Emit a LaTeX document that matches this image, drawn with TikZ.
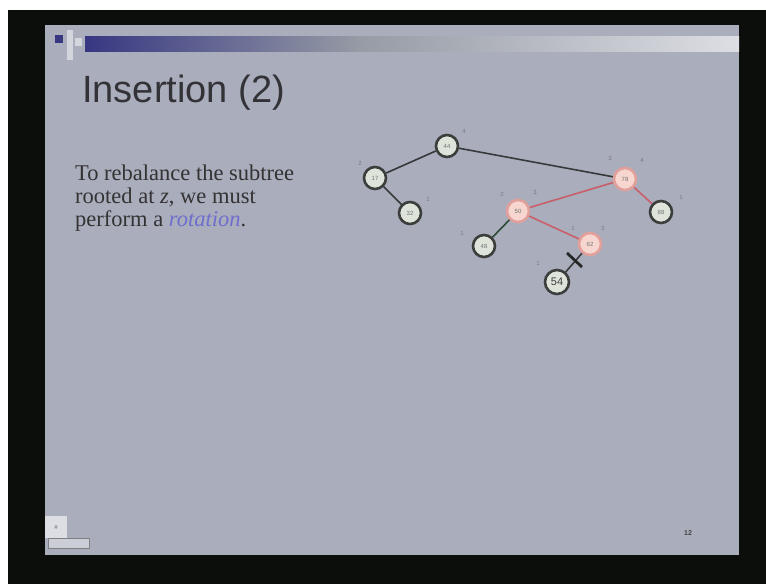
\documentclass[tikz,border=0pt]{standalone}
\usepackage{fontspec}
\setmainfont{Liberation Serif}
\newfontfamily\arialf{Liberation Sans}
\definecolor{slidebg}{RGB}{170,173,188}
\definecolor{frameblk}{RGB}{12,14,12}
\definecolor{titlec}{RGB}{50,50,55}
\definecolor{navy}{RGB}{55,55,130}
\definecolor{midgray}{RGB}{150,155,165}
\definecolor{nodefill}{RGB}{222,228,218}
\definecolor{nodeedge}{RGB}{60,62,60}
\definecolor{pinkfill}{RGB}{246,214,206}
\definecolor{pinkedge}{RGB}{225,160,155}
\definecolor{redline}{RGB}{200,95,105}
\definecolor{darkline}{RGB}{55,58,58}
\definecolor{greenline}{RGB}{45,75,55}
\definecolor{rotblue}{RGB}{110,110,205}
\definecolor{hlab}{RGB}{120,120,135}
\begin{document}
\begin{tikzpicture}[x=1pt,y=-1pt,
  tnode/.style={circle,draw=nodeedge,line width=2.6pt,fill=nodefill,minimum size=22pt,inner sep=0pt,font=\fontsize{6}{6}\selectfont\arialf,text=black!55},
  pnode/.style={tnode,draw=pinkedge,fill=pinkfill},
  hl/.style={font=\fontsize{6}{6}\selectfont\arialf,text=hlab,inner sep=0pt},
  dedge/.style={draw=darkline,line width=1.6pt},
  redge/.style={draw=redline,line width=1.6pt}]
\useasboundingbox (0,0) rectangle (766,584);
\fill[white] (0,0) rectangle (766,584);
\fill[frameblk] (8,10) rectangle (766,584);
\fill[slidebg] (45,25) rectangle (739,555);
% title decoration
\fill[left color=navy, right color=midgray] (85,36) rectangle (360,51);
\fill[left color=midgray, right color=slidebg!40!white] (359.5,36) rectangle (739,51);
\fill[navy] (55,35) rectangle (63,43);
\fill[slidebg!50!white] (67,30) rectangle (73,60);
\fill[slidebg!50!white] (75,38) rectangle (82,46);
\node[anchor=base west,inner sep=0pt,font=\fontsize{38}{38}\selectfont\arialf,text=titlec] (title) at (82,102) {Insertion (2)};
% body text
\node[anchor=north west,inner sep=0pt,align=left,font=\fontsize{22.5}{23}\selectfont,text=black!80] (body) at (75,165)
  {To rebalance the subtree\\rooted at \textit{z}, we must\\perform a \textcolor{rotblue}{\textit{rotation}}.};
% tree
\node[tnode] (n44) at (447,146) {44};
\node[tnode] (n17) at (375,178) {17};
\node[tnode] (n32) at (410,213) {32};
\node[pnode] (n78) at (625,179) {78};
\node[tnode] (n88) at (661,212) {88};
\node[pnode] (n50) at (518,211) {50};
\node[tnode] (n48) at (484,246) {48};
\node[pnode] (n62) at (590,244) {62};
\node[tnode,minimum size=24pt,font=\fontsize{11}{11}\selectfont\arialf,text=black!75] (n54) at (557,282) {54};
\draw[dedge] (n44) -- (n17);
\draw[dedge] (n44) -- (n78);
\draw[dedge] (n17) -- (n32);
\draw[redge] (n78) -- (n50);
\draw[redge] (n78) -- (n88);
\draw[draw=greenline,line width=1.6pt] (n50) -- (n48);
\draw[redge] (n50) -- (n62);
\draw[dedge] (n62) -- (n54);
\coordinate (m1) at (567,253);
\coordinate (m2) at (582,267);
\draw[black!85,line width=2.8pt] (m1) -- (m2);
% height labels
\node[hl] (h44) at (464,131) {4};
\node[hl] (h17) at (360,163) {2};
\node[hl] (h32) at (428,199) {1};
\node[hl] (h78a) at (610,158) {3};
\node[hl] (h78b) at (642,160) {4};
\node[hl] (h88) at (681,197) {1};
\node[hl] (h50a) at (502,194) {2};
\node[hl] (h50b) at (535,192) {3};
\node[hl] (h48) at (462,233) {1};
\node[hl] (h62a) at (573,228) {1};
\node[hl] (h62b) at (603,228) {2};
\node[hl] (h54) at (538,263) {1};
% footer
\fill[slidebg!40!white] (45,516) rectangle (67,538);
\node[inner sep=0pt,font=\fontsize{6}{6}\selectfont\arialf,text=black!60] (icon) at (56,527) {\#};
\draw[black!50,fill=slidebg!60!white] (48,538) rectangle (89,548);
\node[inner sep=0pt,font=\fontsize{7}{7}\selectfont\arialf\bfseries,text=black!75] (pg) at (688,533) {12};
\end{tikzpicture}
\end{document}
